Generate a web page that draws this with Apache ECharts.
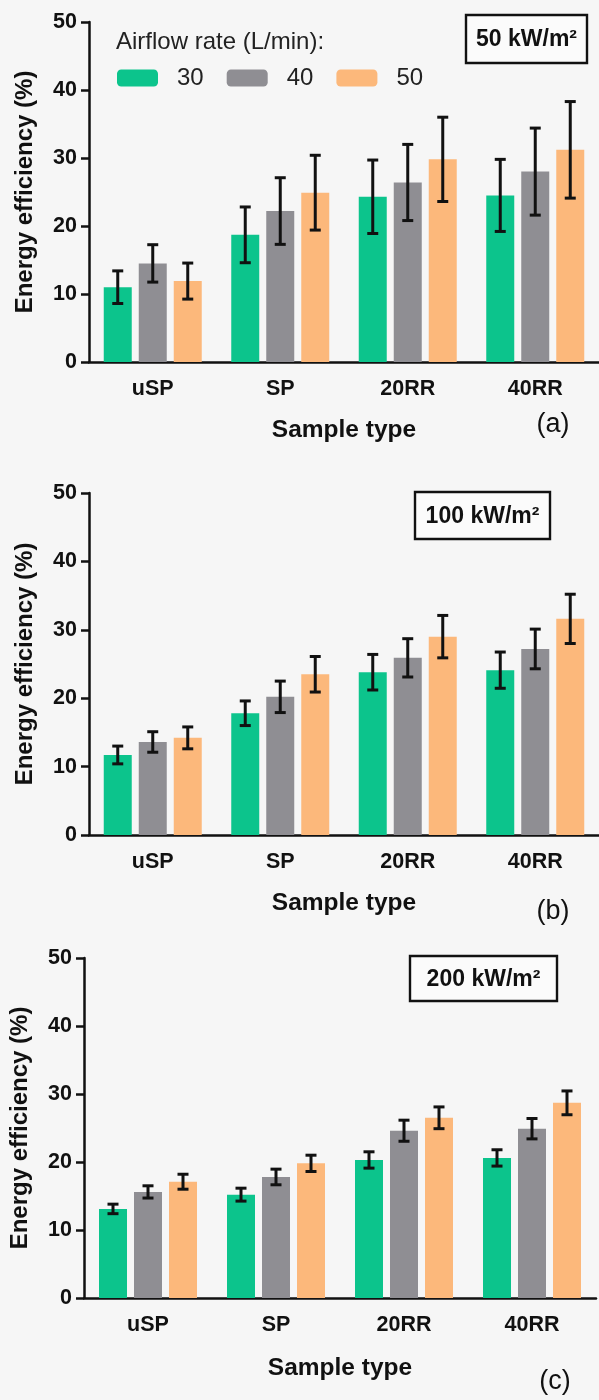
<!DOCTYPE html>
<html>
<head>
<meta charset="utf-8">
<script src="https://cdn.jsdelivr.net/npm/echarts@6/dist/echarts.min.js"></script>
<style>
  html, body { margin: 0; padding: 0; background: #f6f6f6; }
  #chart { width: 599px; height: 1400px; }
</style>
</head>
<body>
<div id="chart"></div>
<script>
// Sample types on the x axis and airflow rates (L/min) of the three bar series
const categories = ['uSP', 'SP', '20RR', '40RR'];
const airflowRates = ['30', '40', '50'];
const yTicks = [0, 10, 20, 30, 40, 50];

// (a) 50 kW/m2 — mean energy efficiency (%) and error (±)
const a30 = [11.0, 18.7, 24.3, 24.5];
const a30Err = [2.4, 4.1, 5.4, 5.3];
const a40 = [14.5, 22.2, 26.4, 28.0];
const a40Err = [2.75, 4.9, 5.6, 6.4];
const a50 = [11.9, 24.9, 29.8, 31.2];
const a50Err = [2.65, 5.5, 6.2, 7.1];

// (b) 100 kW/m2
const b30 = [11.7, 17.8, 23.8, 24.1];
const b30Err = [1.3, 1.8, 2.6, 2.65];
const b40 = [13.6, 20.2, 25.9, 27.2];
const b40Err = [1.5, 2.3, 2.8, 2.9];
const b50 = [14.2, 23.5, 29.0, 31.6];
const b50Err = [1.6, 2.6, 3.1, 3.6];

// (c) 200 kW/m2
const c30 = [13.1, 15.2, 20.3, 20.6];
const c30Err = [0.7, 0.95, 1.2, 1.2];
const c40 = [15.6, 17.8, 24.6, 24.9];
const c40Err = [0.9, 1.15, 1.55, 1.5];
const c50 = [17.1, 19.8, 26.5, 28.7];
const c50Err = [1.1, 1.2, 1.6, 1.75];

const panels = [
  { heat: '50 kW/m²', tag: '(a)', means: [a30, a40, a50], errs: [a30Err, a40Err, a50Err] },
  { heat: '100 kW/m²', tag: '(b)', means: [b30, b40, b50], errs: [b30Err, b40Err, b50Err] },
  { heat: '200 kW/m²', tag: '(c)', means: [c30, c40, c50], errs: [c30Err, c40Err, c50Err] }
];

const colors = ['#0cc48c', '#8f8e93', '#fcb87b'];
const FONT = '"Liberation Sans", Arial, sans-serif';
const INK = '#111111';

// Layout of the three stacked plots
const grids = [
  { left: 89, top: 22, width: 512, height: 340 },
  { left: 89, top: 493, width: 512, height: 342 },
  { left: 84, top: 958, width: 512, height: 340 }
];
const boxes = [
  { x: 466, y: 15, w: 121, h: 48 },
  { x: 415, y: 492, w: 135, h: 47 },
  { x: 410, y: 956, w: 147, h: 45 }
];
const tagPos = [[553, 425], [553, 912], [555, 1382]];
const xNameGap = [56, 56, 58];

const BAR_W = 28;
const BAR_GAP = 7;
const CAP = 11;

const chart = echarts.init(document.getElementById('chart'), null, { renderer: 'canvas' });

const xAxes = [], yAxes = [], series = [], graphics = [];

grids.forEach(function (g, p) {
  xAxes.push({
    gridIndex: p,
    type: 'category',
    data: categories,
    name: 'Sample type',
    nameLocation: 'middle',
    nameGap: xNameGap[p],
    nameTextStyle: { fontFamily: FONT, fontWeight: 'bold', fontSize: 24.5, color: INK },
    axisLine: { lineStyle: { color: INK, width: 2.5 } },
    axisTick: { alignWithLabel: true, length: 8, lineStyle: { color: INK, width: 2.5 } },
    axisLabel: { margin: 16, fontFamily: FONT, fontWeight: 'bold', fontSize: 21.5, color: INK },
    splitLine: { show: false }
  });
  yAxes.push({
    gridIndex: p,
    type: 'value',
    min: yTicks[0],
    max: yTicks[yTicks.length - 1],
    interval: yTicks[1] - yTicks[0],
    name: 'Energy efficiency (%)',
    nameLocation: 'middle',
    nameGap: 52,
    nameTextStyle: { fontFamily: FONT, fontWeight: 'bold', fontSize: 24, color: INK },
    axisLine: { show: true, lineStyle: { color: INK, width: 2.5 } },
    axisTick: { show: true, length: 8, lineStyle: { color: INK, width: 2.5 } },
    axisLabel: { margin: 12, fontFamily: FONT, fontWeight: 'bold', fontSize: 21.5, color: INK },
    splitLine: { show: false }
  });

  const panel = panels[p];
  airflowRates.forEach(function (rate, s) {
    series.push({
      name: rate,
      type: 'bar',
      xAxisIndex: p,
      yAxisIndex: p,
      data: panel.means[s],
      barWidth: BAR_W,
      barGap: (BAR_GAP / BAR_W * 100) + '%',
      itemStyle: { color: colors[s] },
      emphasis: { disabled: true },
      z: 2
    });
  });

  // Error bars: one custom series per airflow rate, shifted onto its bar
  airflowRates.forEach(function (rate, s) {
    const offset = (s - 1) * (BAR_W + BAR_GAP);
    const data = panel.means[s].map(function (m, i) {
      return [i, m - panel.errs[s][i], m + panel.errs[s][i]];
    });
    series.push({
      type: 'custom',
      xAxisIndex: p,
      yAxisIndex: p,
      data: data,
      z: 5,
      silent: true,
      renderItem: function (params, api) {
        const lo = api.coord([api.value(0), api.value(1)]);
        const hi = api.coord([api.value(0), api.value(2)]);
        const x = lo[0] + offset;
        const style = { stroke: INK, lineWidth: 3 };
        return {
          type: 'group',
          children: [
            { type: 'line', shape: { x1: x, y1: lo[1], x2: x, y2: hi[1] }, style: style },
            { type: 'line', shape: { x1: x - CAP / 2, y1: hi[1], x2: x + CAP / 2, y2: hi[1] }, style: style },
            { type: 'line', shape: { x1: x - CAP / 2, y1: lo[1], x2: x + CAP / 2, y2: lo[1] }, style: style }
          ]
        };
      }
    });
  });

  // Heat flux box
  const b = boxes[p];
  graphics.push({
    type: 'rect',
    shape: { x: b.x, y: b.y, width: b.w, height: b.h },
    style: { fill: '#fbfbfb', stroke: INK, lineWidth: 2.4 },
    z: 10
  });
  graphics.push({
    type: 'text',
    x: b.x + b.w / 2,
    y: b.y + b.h / 2 + 1,
    style: {
      text: panel.heat,
      fontFamily: FONT, fontWeight: 'bold', fontSize: 23, fill: INK,
      align: 'center', verticalAlign: 'middle'
    },
    z: 11
  });
  // Panel tag
  graphics.push({
    type: 'text',
    x: tagPos[p][0],
    y: tagPos[p][1],
    style: {
      text: panel.tag,
      fontFamily: FONT, fontSize: 27, fill: INK,
      align: 'center', verticalAlign: 'middle'
    },
    z: 11
  });
});

// Legend caption
graphics.push({
  type: 'text',
  x: 116,
  y: 42,
  style: {
    text: 'Airflow rate (L/min):',
    fontFamily: FONT, fontSize: 24, fill: '#222222',
    align: 'left', verticalAlign: 'middle'
  },
  z: 11
});

chart.setOption({
  backgroundColor: '#f6f6f6',
  animation: false,
  grid: grids.map(function (g) { return Object.assign({ containLabel: false }, g); }),
  xAxis: xAxes,
  yAxis: yAxes,
  legend: {
    data: airflowRates,
    left: 112,
    top: 61,
    orient: 'horizontal',
    itemWidth: 41,
    itemHeight: 17,
    itemGap: 23,
    icon: 'roundRect',
    selectedMode: false,
    textStyle: { fontFamily: FONT, fontSize: 24, color: '#222222', padding: [0, 0, 0, 14] }
  },
  series: series,
  graphic: graphics
});
</script>
</body>
</html>
